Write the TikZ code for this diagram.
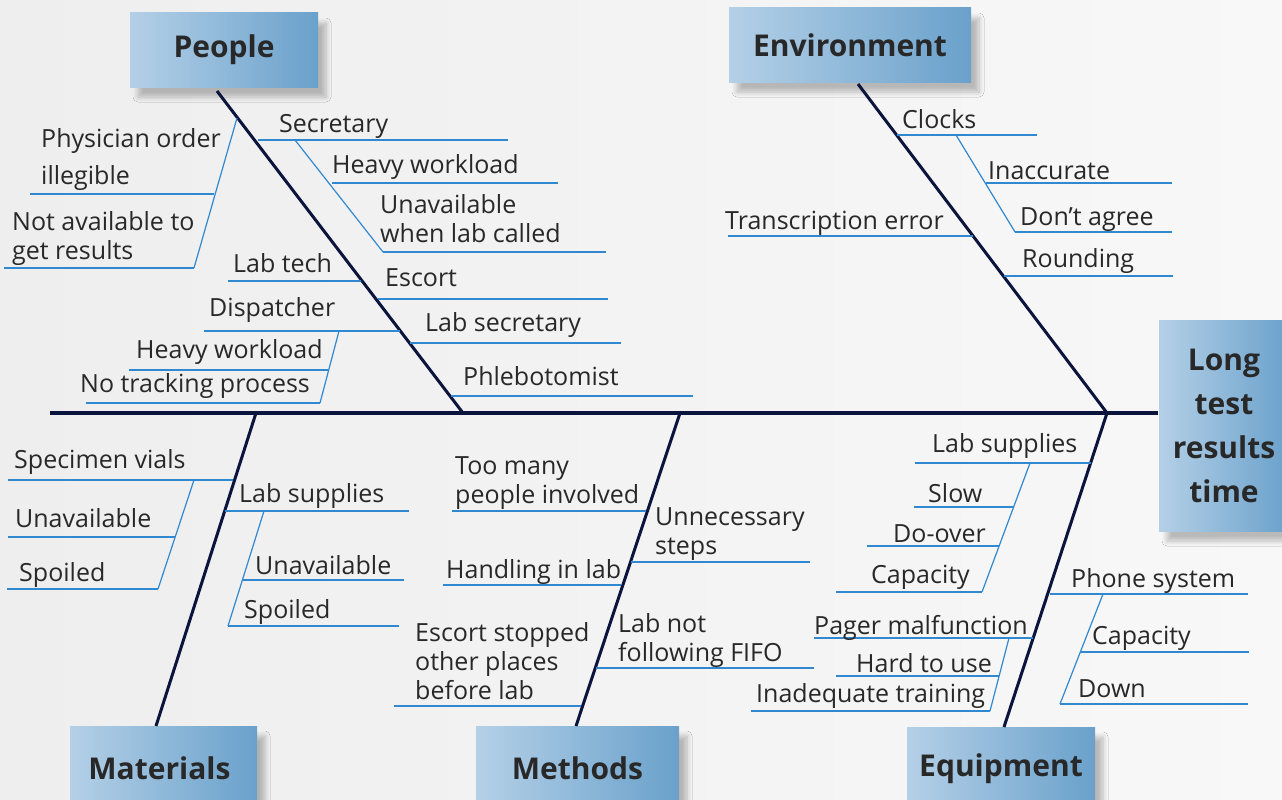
\documentclass[tikz,border=0pt]{standalone}
\usepackage{fontspec}
\setmainfont{Open Sans}
\usetikzlibrary{shadows.blur}
\definecolor{bgL}{RGB}{238,238,239}
\definecolor{bgR}{RGB}{248,248,248}
\definecolor{bonec}{RGB}{10,20,60}
\definecolor{subc}{RGB}{48,136,208}
\definecolor{txtc}{RGB}{40,40,40}
\definecolor{boxL}{RGB}{180,208,231}
\definecolor{boxR}{RGB}{106,161,203}
\tikzset{
  bone/.style={draw=bonec, line width=3pt},
  subline/.style={draw=subc, line width=1.2pt},
  lbl/.style={anchor=south west, inner sep=0pt, text depth=0pt, align=left,
    text=txtc, font=\fontsize{25}{29}\selectfont},
  titlebox/.style={left color=boxL, right color=boxR, inner sep=0pt,
    text=txtc, font=\fontsize{30}{44}\selectfont\bfseries, align=center,
    blur shadow={shadow xshift=8pt, shadow yshift=-10pt, shadow blur radius=5pt, shadow blur steps=8, shadow opacity=25}}
}
\begin{document}
\begin{tikzpicture}[x=1pt,y=-1pt]
\useasboundingbox (0,0) rectangle (1282,800);
\clip (0,0) rectangle (1282,800);
\fill[left color=bgL, right color=bgR] (0,0) rectangle (1282,800);

% title boxes
\node[titlebox, minimum width=188pt, minimum height=74pt] (people) at (224,50) {People};
\node[titlebox, minimum width=242pt, minimum height=74pt] (env) at (850,45) {Environment};
\node[titlebox, minimum width=187pt, minimum height=84pt, text width=187pt] (mat) at (163.5,768) {\hspace*{-8pt}Materials};
\node[titlebox, minimum width=203pt, minimum height=84pt] (meth) at (577.5,768) {Methods};
\node[titlebox, minimum width=188pt, minimum height=84pt] (equip) at (1001,769) {Equipment};
\node[titlebox, minimum width=130pt, minimum height=211pt] (head) at (1224,425.5) {Long\\test\\results\\time};

% spine and main bones
\coordinate (tail) at (50,413);
\coordinate (headpt) at (1158,413);
\coordinate (pj) at (463,413);
\coordinate (ej) at (1107,413);
\coordinate (mj) at (256,413);
\coordinate (tj) at (680,413);
\draw[bone, line width=3.5pt] (tail) -- (headpt);
\draw[bone] (217,91) -- (pj);
\draw[bone] (858,84) -- (ej);
\draw[bone] (mj) -- (156,726);
\draw[bone] (tj) -- (576,726);
\draw[bone] (ej) -- (1004,727);

% People
\draw[subline] (258,140) -- (508,140);
\draw[subline] (295,140) -- (383,252);
\draw[subline] (332,183) -- (558,183);
\draw[subline] (383,252) -- (606,252);
\draw[subline] (378,299) -- (608,299);
\draw[subline] (410,343) -- (621,343);
\draw[subline] (451,396) -- (693,396);
\draw[subline] (228,281) -- (361,281);
\draw[subline] (204,331) -- (400,331);
\draw[subline] (339,331) -- (320,403);
\draw[subline] (129,370) -- (328,370);
\draw[subline] (86,403) -- (320,403);
\draw[subline] (237,118) -- (194,268);
\draw[subline] (30,194) -- (214,194);
\draw[subline] (4,268) -- (194,268);
\node[lbl] (p1) at (279,133) {Secretary};
\node[lbl] (p2) at (332,174) {Heavy workload};
\node[lbl] (p3) at (380,243) {Unavailable\\when lab called};
\node[lbl] (p4) at (385,287) {Escort};
\node[lbl] (p5) at (425,332) {Lab secretary};
\node[lbl] (p6) at (463,386) {Phlebotomist};
\node[lbl] (p7) at (233,273) {Lab tech};
\node[lbl] (p8) at (209,317) {Dispatcher};
\node[lbl] (p9) at (136,359) {Heavy workload};
\node[lbl] (p10) at (80,393) {No tracking process};
\node[lbl] (p11) at (41,185) {Physician order\\[8pt]illegible};
\node[lbl] (p12) at (12,260) {Not available to\\get results};

% Environment
\draw[subline] (897,135) -- (1037,135);
\draw[subline] (956,135) -- (1015,232);
\draw[subline] (986,183) -- (1172,183);
\draw[subline] (1015,232) -- (1172,232);
\draw[subline] (1004,276) -- (1173,276);
\draw[subline] (728,236) -- (973,236);
\node[lbl] (e1) at (902,129) {Clocks};
\node[lbl] (e2) at (988,180) {Inaccurate};
\node[lbl] (e3) at (1020,226) {Don’t agree};
\node[lbl] (e4) at (1022,268) {Rounding};
\node[lbl] (e5) at (725,230) {Transcription error};

% Materials
\draw[subline] (8,480) -- (233,480);
\draw[subline] (194,480) -- (158,589);
\draw[subline] (8,537) -- (175,537);
\draw[subline] (7,589) -- (158,589);
\draw[subline] (225,511) -- (409,511);
\draw[subline] (264,511) -- (228,626);
\draw[subline] (243,580) -- (404,580);
\draw[subline] (228,626) -- (399,626);
\node[lbl] (m1) at (14,469) {Specimen vials};
\node[lbl] (m2) at (15,528) {Unavailable};
\node[lbl] (m3) at (19,582) {Spoiled};
\node[lbl] (m4) at (239,503) {Lab supplies};
\node[lbl] (m5) at (255,575) {Unavailable};
\node[lbl] (m6) at (244,619) {Spoiled};

% Methods
\draw[subline] (452,511) -- (646,511);
\draw[subline] (443,585) -- (621,585);
\draw[subline] (394,706) -- (581,706);
\draw[subline] (631,562) -- (810,562);
\draw[subline] (596,668) -- (814,668);
\node[lbl] (t1) at (455,504) {Too many\\people involved};
\node[lbl] (t2) at (446,579) {Handling in lab};
\node[lbl] (t3) at (415,700) {Escort stopped\\other places\\before lab};
\node[lbl] (t4) at (655,555) {Unnecessary\\steps};
\node[lbl] (t5) at (618,662) {Lab not\\following FIFO};

% Equipment
\draw[subline] (915,463) -- (1091,463);
\draw[subline] (1030,463) -- (982,592);
\draw[subline] (914,507) -- (1014,507);
\draw[subline] (867,546) -- (999,546);
\draw[subline] (836,592) -- (982,592);
\draw[subline] (814,638) -- (1033,638);
\draw[subline] (1009,638) -- (990,711);
\draw[subline] (836,676) -- (999,676);
\draw[subline] (751,711) -- (990,711);
\draw[subline] (1050,594) -- (1248,594);
\draw[subline] (1103,594) -- (1060,704);
\draw[subline] (1080,652) -- (1249,652);
\draw[subline] (1060,704) -- (1248,704);
\node[lbl] (q1) at (932,453) {Lab supplies};
\node[lbl] (q2) at (928,503) {Slow};
\node[lbl] (q3) at (893,543) {Do-over};
\node[lbl] (q4) at (871,584) {Capacity};
\node[lbl] (q5) at (814,635) {Pager malfunction};
\node[lbl] (q6) at (856,673) {Hard to use};
\node[lbl] (q7) at (756,703) {Inadequate training};
\node[lbl] (q8) at (1071,588) {Phone system};
\node[lbl] (q9) at (1092,645) {Capacity};
\node[lbl] (q10) at (1078,698) {Down};
\end{tikzpicture}
\end{document}
